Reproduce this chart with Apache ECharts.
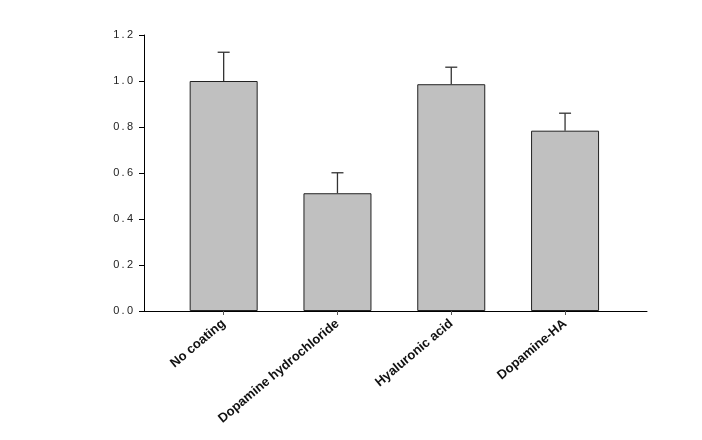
<!DOCTYPE html>
<html>
<head>
<meta charset="utf-8">
<script src="https://cdn.jsdelivr.net/npm/echarts@6/dist/echarts.min.js"></script>
<style>
html, body { margin: 0; padding: 0; background: #fff; }
#chart { width: 702px; height: 440px; }
</style>
</head>
<body>
<div id="chart"></div>
<script>
var categories = [ 'No coating', 'Dopamine hydrochloride', 'Hyaluronic acid', 'Dopamine-HA' ];
var means = [ 1.0, 0.512, 0.986, 0.784 ];
var errors = [ 0.125, 0.089, 0.074, 0.076 ];
var yTicks = [ 0, 0.2, 0.4, 0.6, 0.8, 1.0, 1.2 ];

var positions = categories.map(function(c, i) { return i; });

var barData = means.map(function(v, i) { return [ positions[i], v ]; });
var errData = means.map(function(v, i) { return [ positions[i], v, v + errors[i] ]; });

var graph = echarts.init(document.getElementById('chart'));

var option = {
	animation : false,
	grid : {
		left : 144,
		right : 55,
		top : 35,
		bottom : 129
	},
	xAxis : {
		type : 'value',
		min : -0.7,
		max : 3.72,
		splitLine : { show : false },
		axisLine : { onZero : false, lineStyle : { color : '#000', width : 1 } },
		axisTick : {
			show : true,
			customValues : positions,
			length : 4,
			inside : false,
			lineStyle : { color : '#555' }
		},
		axisLabel : {
			customValues : positions,
			rotate : 40,
			margin : 11,
			padding : [ 0, 0, 0, 0 ],
			fontFamily : 'Liberation Sans, Arial, sans-serif',
			fontWeight : 'bold',
			fontSize : 13,
			color : '#111',
			formatter : function(v) { return categories[Math.round(v)]; }
		}
	},
	yAxis : {
		type : 'value',
		min : 0,
		max : 1.2,
		interval : 0.2,
		splitLine : { show : false },
		axisLine : { show : true, onZero : false, lineStyle : { color : '#000', width : 1 } },
		axisTick : { show : true, length : 5, lineStyle : { color : '#000' } },
		axisLabel : {
			margin : 11,
			fontFamily : 'Liberation Sans, Arial, sans-serif',
			fontSize : 11,
			color : '#222',
			customValues : yTicks,
			formatter : function(v) { return v.toFixed(1).split('').join('\u2009'); }
		}
	},
	series : [ {
		type : 'bar',
		data : barData,
		barWidth : 68,
		itemStyle : {
			color : '#c0c0c0',
			borderColor : '#222',
			borderWidth : 1
		}
	}, {
		type : 'custom',
		data : errData,
		renderItem : function(params, api) {
			var x = api.value(0);
			var base = api.coord([ x, api.value(1) ]);
			var top = api.coord([ x, api.value(2) ]);
			var half = 6;
			var style = { stroke : '#333', lineWidth : 1.3 };
			return {
				type : 'group',
				children : [ {
					type : 'line',
					shape : { x1 : base[0], y1 : base[1], x2 : top[0], y2 : top[1] },
					style : style
				}, {
					type : 'line',
					shape : { x1 : top[0] - half, y1 : top[1], x2 : top[0] + half, y2 : top[1] },
					style : style
				} ]
			};
		},
		z : 3
	} ]
};

graph.setOption(option);
</script>
</body>
</html>
